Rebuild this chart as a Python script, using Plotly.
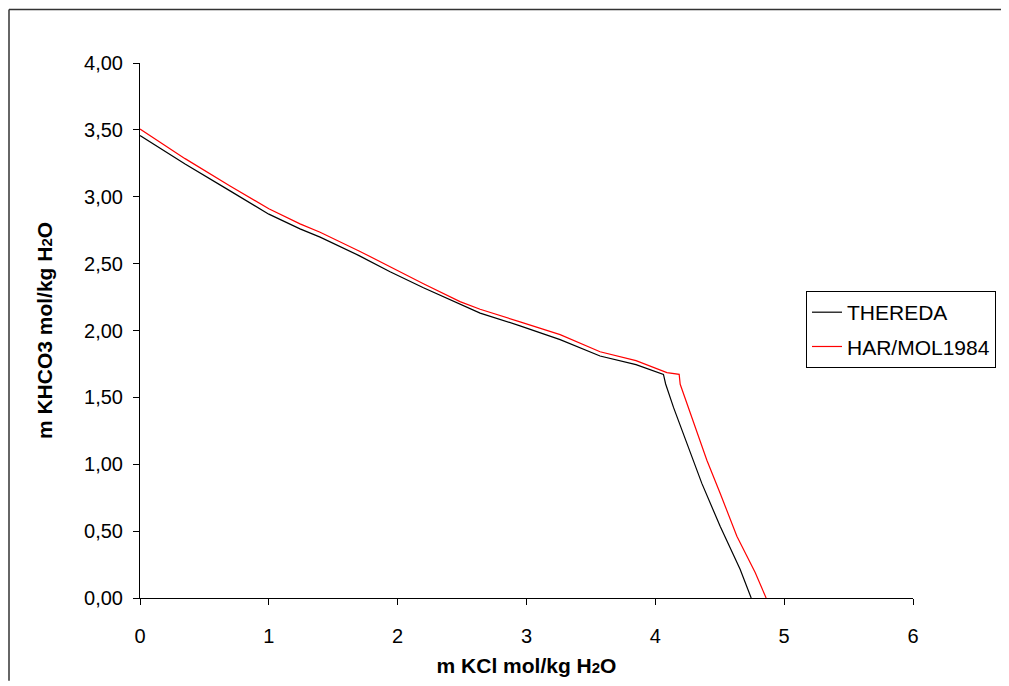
import plotly.graph_objects as go

# THEREDA (black)
thereda_x = [0.0, 0.35, 0.699, 1.0, 1.242, 1.398, 1.70, 1.941, 2.20, 2.484, 2.640, 2.95, 3.261, 3.571, 3.85, 4.063,
             4.08, 4.141, 4.25, 4.361, 4.503, 4.658, 4.744]
thereda_y = [3.457, 3.245, 3.044, 2.870, 2.760, 2.698, 2.560, 2.439, 2.320, 2.196, 2.130, 2.035, 1.932, 1.809, 1.745, 1.672,
             1.600, 1.425, 1.140, 0.857, 0.536, 0.215, 0.0]

# HAR/MOL1984 (red)
harmol_x = [0.0, 0.35, 0.699, 1.0, 1.242, 1.398, 1.70, 1.941, 2.20, 2.484, 2.640, 2.95, 3.261, 3.571, 3.85, 4.09, 4.185,
            4.193, 4.309, 4.40, 4.503, 4.633, 4.775, 4.86]
harmol_y = [3.506, 3.285, 3.081, 2.910, 2.797, 2.735, 2.595, 2.476, 2.350, 2.216, 2.159, 2.065, 1.969, 1.841, 1.775, 1.685, 1.672,
            1.598, 1.277, 1.030, 0.783, 0.462, 0.190, 0.0]

y_ticks = [0, 0.5, 1, 1.5, 2, 2.5, 3, 3.5, 4]
x_ticks = [0, 1, 2, 3, 4, 5, 6]

fig = go.Figure()
fig.add_trace(go.Scatter(x=thereda_x, y=thereda_y, mode="lines", name="THEREDA",
                         line=dict(color="#000000", width=1.2), legendgroup="a"))
fig.add_trace(go.Scatter(x=harmol_x, y=harmol_y, mode="lines", name="HAR/MOL1984",
                         line=dict(color="#FF0000", width=1.2), legendgroup="b"))

# page body has an 8px margin: figure is placed at (8, 8)
OFF = 8
W, H = 1009 - OFF, 686 - OFF
L, T = 140 - OFF, 63 - OFF
pw, ph = 773, 539.6
R = W - L - pw
B = H - T - ph


def px(xw):  # window x -> paper x
    return (xw - 140) / pw


def py(yw):  # window y -> paper y
    return (602.6 - yw) / ph


frame = dict(color="#333333", width=1.5)

fig.update_layout(
    width=W, height=H,
    margin=dict(l=L, r=R, t=T, b=B, pad=0),
    paper_bgcolor="white", plot_bgcolor="white",
    separators=", ",
    font=dict(family="Arial, Liberation Sans, sans-serif", color="black", size=20),
    showlegend=True,
    legend=dict(x=px(806), y=py(293), xanchor="left", yanchor="top",
                bordercolor="black", borderwidth=1, bgcolor="white",
                font=dict(size=21), tracegroupgap=4, entrywidth=165, entrywidthmode="pixels"),
    xaxis=dict(range=[0, 6], tickvals=x_ticks, ticks="outside", ticklen=6, tickcolor="black",
               showline=True, linecolor="black", linewidth=1, showgrid=False, zeroline=False,
               ticklabelstandoff=14, tickfont=dict(size=20),
               title=dict(text="<b>m KCl mol/kg H<span style='font-size:15px'>2</span>O</b>",
                          font=dict(size=21), standoff=12)),
    yaxis=dict(range=[0, 4], tickvals=y_ticks, tickformat=".2f", ticks="outside", ticklen=6, tickcolor="black",
               showline=True, linecolor="black", linewidth=1, showgrid=False, zeroline=False,
               ticklabelstandoff=6, tickfont=dict(size=20),
               title=dict(text="<b>m KHCO3 mol/kg H<span style='font-size:15px'>2</span>O</b>",
                          font=dict(size=21), standoff=25)),
    shapes=[
        dict(type="line", xref="paper", yref="paper", x0=px(9), x1=px(1009), y0=py(9), y1=py(9),
             line=frame, layer="below"),
        dict(type="line", xref="paper", yref="paper", x0=px(9), x1=px(9), y0=py(9), y1=py(686),
             line=frame, layer="below"),
    ],
)

fig.write_html("out.html")
